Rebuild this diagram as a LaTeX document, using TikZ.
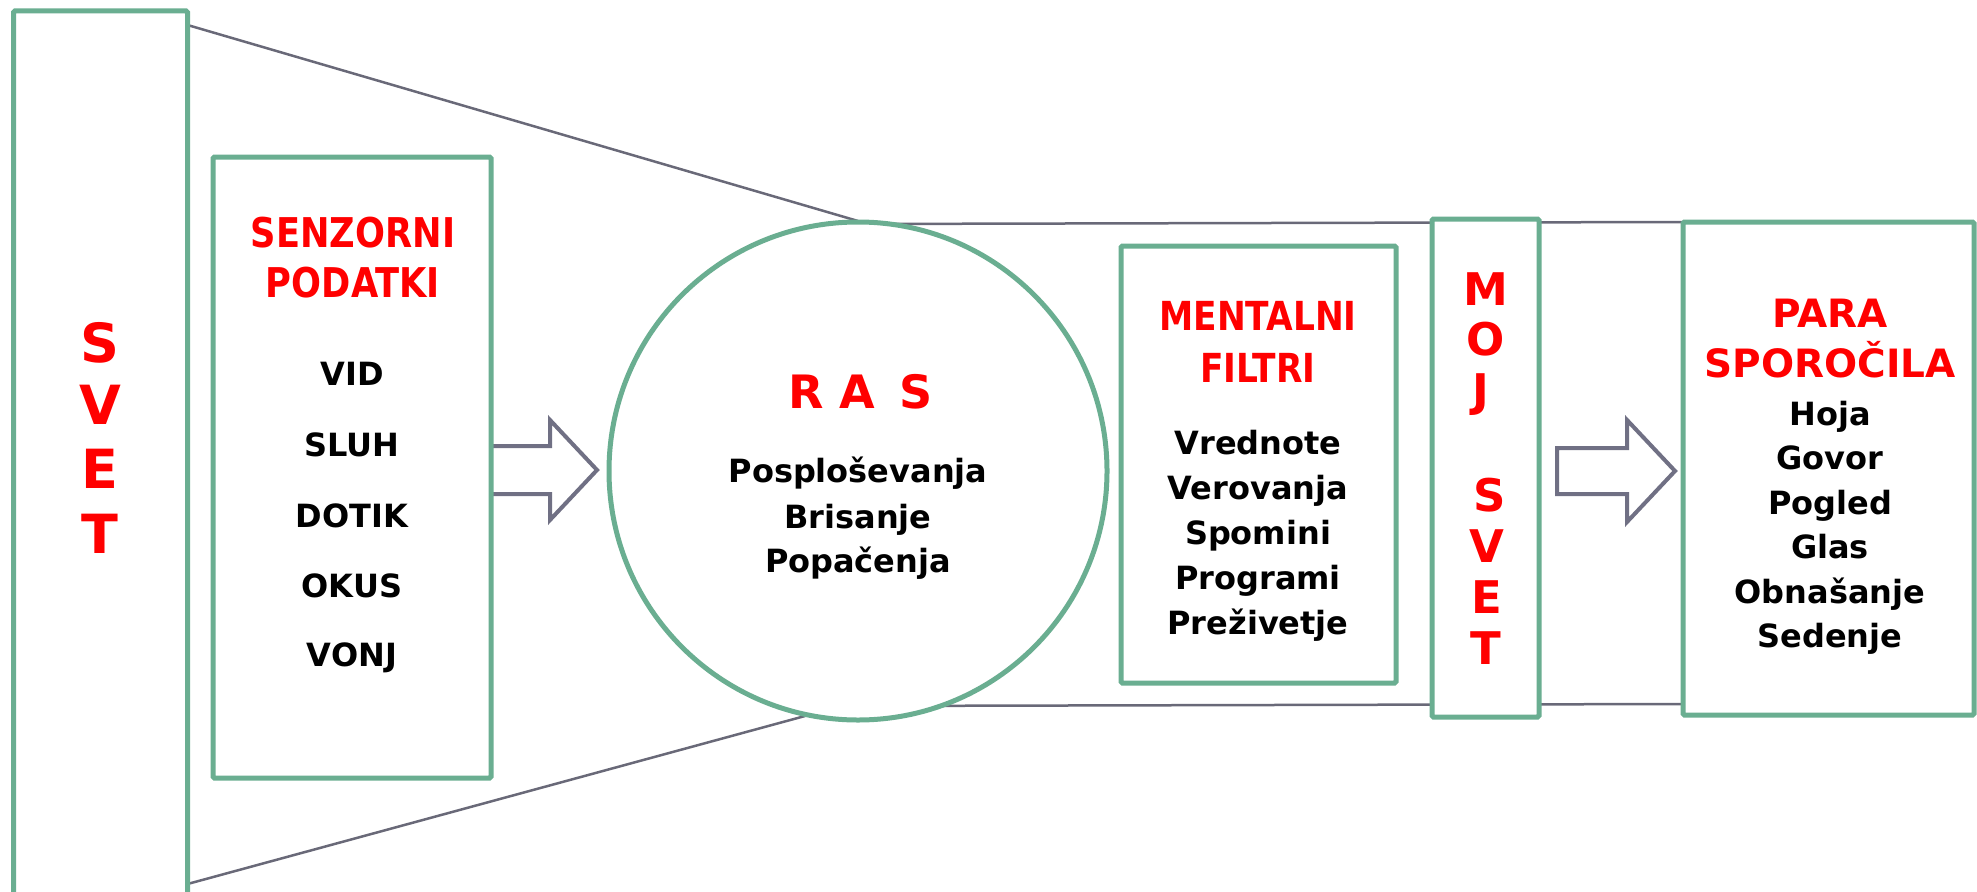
\documentclass[tikz,border=0pt]{standalone}
\usepackage{fontspec}
\setmainfont{DejaVu Sans}
\usepackage{graphicx}
\definecolor{grn}{RGB}{106,174,145}
\definecolor{lng}{RGB}{105,105,120}
\definecolor{arr}{RGB}{112,112,132}
\definecolor{rd}{RGB}{255,0,0}
\newcommand\cnd[1]{\scalebox{0.86}[1]{#1}}
\begin{document}
\begin{tikzpicture}[x=1pt,y=-1pt,
  gbox/.style={draw=grn, line width=5pt, fill=white, rounded corners=1.5pt, inner sep=0pt},
  funnel/.style={draw=lng, line width=2.5pt},
  fatarrow/.style={draw=arr, line width=4pt, fill=white, line join=miter},
  txt/.style={anchor=base, inner sep=0pt, font=\fontsize{32}{38}\selectfont\bfseries},
  rbig/.style={txt, text=rd, font=\fontsize{54}{60}\selectfont\bfseries},
  rmid/.style={txt, text=rd, font=\fontsize{45}{50}\selectfont\bfseries},
  rhead/.style={txt, text=rd, font=\fontsize{41}{46}\selectfont\bfseries},
  rpara/.style={txt, text=rd, font=\fontsize{39}{44}\selectfont\bfseries},
  rras/.style={txt, text=rd, font=\fontsize{46}{50}\selectfont\bfseries}
]
\useasboundingbox (0,0) rectangle (1977,891);
\clip (0,0) rectangle (1977,891);

% funnel outline
\coordinate (ft1) at (187.5,25);
\coordinate (fb1) at (187.5,884);
\coordinate (fb2) at (805,716);
\coordinate (ht1) at (858,224);
\coordinate (ht2) at (1683,222);
\coordinate (hb1) at (858,706);
\coordinate (hb2) at (1683,704);
\draw[funnel] (ft1) -- (858,221);
\draw[funnel] (fb1) -- (fb2);
\draw[funnel] (ht1) -- (ht2);
\draw[funnel] (hb1) -- (hb2);

% block arrows
\draw[fatarrow] (491,446) -- (550,446) -- (550,420) -- (597,470) -- (550,520) -- (550,494) -- (491,494);
\draw[fatarrow] (1557,448) -- (1627,448) -- (1627,420) -- (1675,471) -- (1627,522) -- (1627,494) -- (1557,494) -- cycle;

% boxes
\node[gbox, minimum width=174pt, minimum height=889pt] (svet) at (100.5,455.5) {};
\node[gbox, minimum width=278pt, minimum height=621pt] (senz) at (352,467.5) {};
\node[gbox, circle, rounded corners=0pt, minimum size=498pt] (ras) at (858,471) {};
\node[gbox, minimum width=275pt, minimum height=437pt] (ment) at (1258.5,464.5) {};
\node[gbox, minimum width=107pt, minimum height=498pt] (moj) at (1485.5,468) {};
\node[gbox, minimum width=291pt, minimum height=493pt] (para) at (1828.5,468.5) {};

% SVET
\node[rbig] (sv1) at (100,362) {S};
\node[rbig] (sv2) at (100,424) {V};
\node[rbig] (sv3) at (100,488) {E};
\node[rbig] (sv4) at (100,553) {T};

% SENZORNI PODATKI
\node[rhead] (sz1) at (353,247) {\cnd{SENZORNI}};
\node[rhead] (sz2) at (353,297) {\cnd{PODATKI}};
\node[txt] (sz3) at (352,385) {VID};
\node[txt] (sz4) at (352,456) {SLUH};
\node[txt] (sz5) at (352,527) {DOTIK};
\node[txt] (sz6) at (352,597) {OKUS};
\node[txt] (sz7) at (352,666) {VONJ};

% RAS
\node[rras] (r1) at (861,408) {R\hspace{0.32em}A\hspace{0.55em}S};
\node[txt] (r2) at (858,482) {Posploševanja};
\node[txt] (r3) at (858,528) {Brisanje};
\node[txt] (r4) at (858,572) {Popačenja};

% MENTALNI FILTRI
\node[rhead, font=\fontsize{40}{45}\selectfont\bfseries] (m1) at (1258,330) {\cnd{MENTALNI}};
\node[rhead, font=\fontsize{40}{45}\selectfont\bfseries] (m2) at (1258,382) {\cnd{FILTRI}};
\node[txt] (m3) at (1258,454) {Vrednote};
\node[txt] (m4) at (1258,499) {Verovanja};
\node[txt] (m5) at (1258,544) {Spomini};
\node[txt] (m6) at (1258,589) {Programi};
\node[txt] (m7) at (1258,634) {Preživetje};

% MOJ SVET
\node[rmid] (j1) at (1486,305) {M};
\node[rmid] (j2) at (1486,355) {O};
\node[rmid] (j3) at (1481,406) {J};
\node[rmid] (j4) at (1490,511) {S};
\node[rmid] (j5) at (1487,562) {V};
\node[rmid] (j6) at (1487,613) {E};
\node[rmid] (j7) at (1486,664) {T};

% PARA SPOROCILA
\node[rpara] (p1) at (1830,327) {PARA};
\node[rpara] (p2) at (1830,377) {SPOROČILA};
\node[txt] (p3) at (1830,425) {Hoja};
\node[txt] (p4) at (1830,469) {Govor};
\node[txt] (p5) at (1830,514) {Pogled};
\node[txt] (p6) at (1830,558) {Glas};
\node[txt] (p7) at (1830,603) {Obnašanje};
\node[txt] (p8) at (1830,647) {Sedenje};
\end{tikzpicture}
\end{document}
